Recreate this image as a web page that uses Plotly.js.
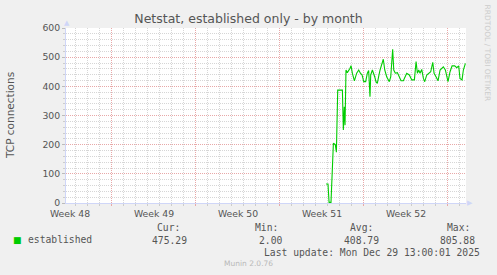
<!DOCTYPE html>
<html><head><meta charset="utf-8">
<script src="https://cdn.plot.ly/plotly-3.0.1.min.js"></script>
<style>html,body{margin:0;padding:0;background:#f0f0f0;}#chart{width:497px;height:275px;}</style>
</head><body><div id="chart"></div>
<script>
// time axis: days since start of the month window
const days = [21.67,21.83,21.92,22.08,22.28,22.44,22.53,22.64,23.03,23.11,23.19,23.25,23.33,23.44,23.67,23.75,23.86,24.03,24.22,24.39,24.53,24.67,24.81,24.97,25.11,25.22,25.33,25.39,25.53,25.61,25.72,25.83,25.94,26.08,26.17,26.44,26.56,26.72,26.94,27.06,27.22,27.31,27.44,27.61,27.78,27.92,28.11,28.25,28.39,28.61,28.81,29.03,29.17,29.28,29.39,29.5,29.64,29.78,29.89,30.06,30.22,30.39,30.56,30.67,30.83,31.0,31.17,31.33,31.44,31.61,31.83,32.0,32.17,32.39,32.56,32.72,32.83,33.0,33.11,33.28];
const established = [65,65,2,2,205,200,174,387,387,250,330,267,456,447,462,471,445,419,445,456,445,439,416,416,445,454,364,439,456,448,433,416,410,439,456,493,456,433,416,433,527,456,445,447,433,419,419,433,445,439,422,422,485,445,456,445,458,427,416,439,445,450,482,445,433,419,456,462,467,456,416,450,470,470,464,470,427,422,456,479];
const weekLabels = ['Week 48','Week 49','Week 50','Week 51','Week 52'];
const weekStartDays = [3.75,10.75,17.75,24.75,31.75];
const statLabels = ['Cur:','Min:','Avg:','Max:'];
const statValues = [475.29,2.00,408.79,805.88];
const seriesName = 'established';
const lastUpdate = 'Last update: Mon Dec 29 13:00:01 2025';
const chartTitle = 'Netstat, established only - by month';
const yTitle = 'TCP connections';
const vendorText = 'RRDTOOL / TOBI OETIKER';
const versionText = 'Munin 2.0.76';

const L=66,R=466,T=28,B=203;
const px = x => (x-L)/(R-L);
const py = y => (B-y)/(B-T);
const GREY='#555555', SANS='DejaVu Sans', MONO='DejaVu Sans Mono';
const MAJ='#e8a8a8', MIN='#d6d6d6', AXIS='#CFD6F8';

const trace = {x:days, y:established, type:'scatter', mode:'lines', name:seriesName,
  line:{color:'#00cc00', width:1.1}, hoverinfo:'skip'};

const statLabelRight = [181.5,279.5,374.5,472];
const statValueRight = [188.5,283.5,380.5,477];
const ann = [];
ann.push({text:yTitle, xref:'paper', yref:'paper', x:px(10), y:py(115), textangle:-90, showarrow:false,
  font:{family:SANS, size:10.5, color:GREY}, xanchor:'center', yanchor:'middle'});
ann.push({text:vendorText, xref:'paper', yref:'paper', x:px(487.5), y:py(53), textangle:90, showarrow:false,
  font:{family:SANS, size:7.5, color:'#cccccc'}, xanchor:'center', yanchor:'middle'});
ann.push({text:'▲', xref:'paper', yref:'paper', x:px(66.5), y:py(23.5), showarrow:false,
  font:{family:SANS, size:7, color:AXIS}, xanchor:'center', yanchor:'middle'});
ann.push({text:'▶', xref:'paper', yref:'paper', x:px(470), y:py(203), showarrow:false,
  font:{family:SANS, size:7, color:AXIS}, xanchor:'center', yanchor:'middle'});
ann.push({text:'■', xref:'paper', yref:'paper', x:px(17), y:py(240), showarrow:false,
  font:{family:SANS, size:9, color:'#00cc00'}, xanchor:'center', yanchor:'middle'});
ann.push({text:seriesName, xref:'paper', yref:'paper', x:px(25.5), y:py(239.5), showarrow:false,
  font:{family:MONO, size:9.7, color:GREY}, xanchor:'left', yanchor:'middle'});
statLabels.forEach((s,i)=>{
  ann.push({text:s, xref:'paper', yref:'paper', x:px(statLabelRight[i]), y:py(227.3), showarrow:false,
    font:{family:MONO, size:9.7, color:GREY}, xanchor:'right', yanchor:'middle'});
  ann.push({text:statValues[i].toFixed(2), xref:'paper', yref:'paper', x:px(statValueRight[i]), y:py(240), showarrow:false,
    font:{family:MONO, size:9.7, color:GREY}, xanchor:'right', yanchor:'middle'});
});
ann.push({text:lastUpdate, xref:'paper', yref:'paper', x:px(262), y:py(253), showarrow:false,
  font:{family:MONO, size:9.7, color:GREY}, xanchor:'left', yanchor:'middle'});
ann.push({text:versionText, xref:'paper', yref:'paper', x:px(248), y:py(263.5), showarrow:false,
  font:{family:SANS, size:7.5, color:'#b8b8b8'}, xanchor:'center', yanchor:'middle'});

const layout = {
  width:497, height:275,
  paper_bgcolor:'#f0f0f0', plot_bgcolor:'#ffffff',
  margin:{l:L, r:497-R, t:T, b:275-B, pad:0},
  showlegend:false,
  title:{text:chartTitle, font:{family:SANS, size:12.5, color:GREY},
    x:0.5, xref:'container', xanchor:'center', y:1-19/275, yref:'container', yanchor:'middle'},
  xaxis:{range:[0,33.33], tickvals:weekStartDays, ticktext:weekLabels, ticklabelshift:-41, ticklabelstandoff:0,
    tickfont:{family:SANS, size:9.3, color:GREY}, showgrid:true,
    gridcolor:MAJ, griddash:'1px,1px', gridwidth:1, zeroline:false, showline:true, linecolor:AXIS, linewidth:1,
    ticks:'outside', ticklen:2, tickcolor:MAJ, fixedrange:true,
    minor:{tick0:0.75, dtick:1, showgrid:true, gridcolor:MIN, griddash:'1px,1px', ticks:'outside', ticklen:2, tickcolor:'#cccccc'}},
  yaxis:{range:[0,600], tick0:0, dtick:100, showgrid:true, gridcolor:MAJ, griddash:'1px,1px', gridwidth:1,
    zeroline:false, showline:true, linecolor:AXIS, linewidth:1, ticks:'outside', ticklen:3, tickcolor:'#bbbbbb',
    tickfont:{family:SANS, size:9.3, color:GREY}, fixedrange:true,
    minor:{dtick:20, showgrid:true, gridcolor:MIN, griddash:'1px,1px', ticks:'outside', ticklen:2, tickcolor:'#cccccc'}},
  annotations:ann
};
Plotly.newPlot('chart', [trace], layout, {staticPlot:true, displayModeBar:false});
</script></body></html>
